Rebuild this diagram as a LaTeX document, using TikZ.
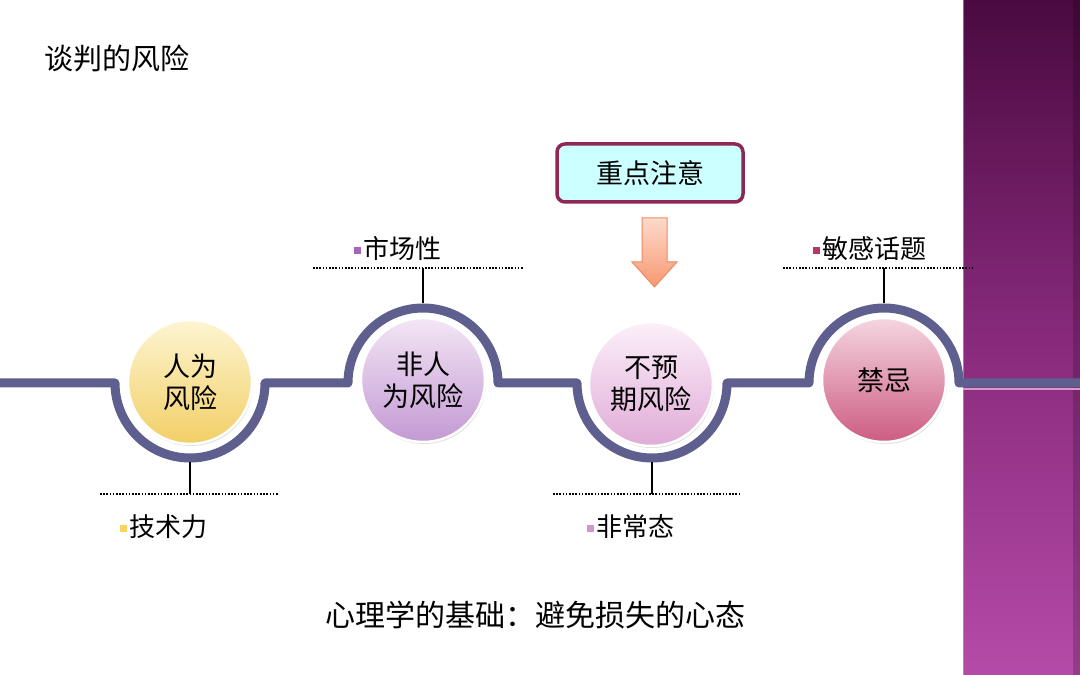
\documentclass[tikz,border=0pt]{standalone}
\usepackage{fontspec}
\setmainfont{Noto Sans CJK SC}
\usetikzlibrary{shadows}
\definecolor{linec}{HTML}{5F5F8F}
\definecolor{bandtop}{HTML}{4A0A40}
\definecolor{bandmid}{HTML}{882A7C}
\definecolor{bandbot}{HTML}{B54BA8}
\definecolor{pinkline}{HTML}{D99ACB}
\definecolor{yelT}{HTML}{FDF5D2}
\definecolor{yelM}{HTML}{FBE9A8}
\definecolor{yelB}{HTML}{F2CF66}
\definecolor{purT}{HTML}{F3E6F5}
\definecolor{purM}{HTML}{DEC4E7}
\definecolor{purB}{HTML}{C399D3}
\definecolor{pnkT}{HTML}{FCF0F9}
\definecolor{pnkM}{HTML}{F1D6ED}
\definecolor{pnkB}{HTML}{E0ABD8}
\definecolor{redT}{HTML}{F5D6E0}
\definecolor{redM}{HTML}{EBB5C7}
\definecolor{redB}{HTML}{CD5C82}
\definecolor{bulY}{HTML}{F9D35A}
\definecolor{bulP}{HTML}{A764B8}
\definecolor{bulK}{HTML}{D396CB}
\definecolor{bulR}{HTML}{B5386A}
\definecolor{boxline}{HTML}{8E2852}
\definecolor{boxfill}{HTML}{CCFFFF}
\definecolor{arrA}{HTML}{FCDACA}
\definecolor{arrB}{HTML}{F79872}
\definecolor{arrL}{HTML}{EE8A62}
\newcommand{\bul}[1]{\raisebox{5pt}{\textcolor{#1}{\rule{7pt}{7pt}}}\hspace{2pt}}
\tikzset{
  ball/.style={circle, minimum size=124pt, inner sep=0pt, align=center,
    draw=white, line width=2.5pt,
    font=\fontsize{27}{32}\selectfont,
    drop shadow={opacity=0.25, shadow xshift=1pt, shadow yshift=-2pt}},
  lab/.style={anchor=west, inner sep=0pt, font=\fontsize{26}{30}\selectfont},
  conn/.style={black, line width=2pt},
  dotline/.style={black, line width=1.6pt, dash pattern=on 1.6pt off 1.6pt},
  track/.style={linec, line width=9pt, line join=round},
}
\begin{document}
\begin{tikzpicture}[x=1pt,y=1pt]
\useasboundingbox (0,0) rectangle (1080,675);
\fill[white] (0,0) rectangle (1080,675);
% right band
\shade[top color=bandtop, bottom color=bandbot, middle color=bandmid] (963,0) rectangle (1080,675);
\fill[black, opacity=0.18] (1073,0) rectangle (1080,675);
\draw[pinkline, opacity=0.6, line width=1pt] (963.5,0) -- (963.5,675);
% title
\node[anchor=west, inner sep=0pt, font=\fontsize{29}{32}\selectfont] (title) at (44,617) {谈判的风险};
% main track
\draw[track] (0,292) -- (115,292) arc[start angle=180,end angle=360,radius=75]
  -- (348,292) arc[start angle=180,end angle=0,radius=75]
  -- (577,292) arc[start angle=180,end angle=360,radius=75]
  -- (809,292) arc[start angle=180,end angle=0,radius=75] -- (1080,292);
\draw[pinkline, line width=2pt] (963,286) -- (1080,286);
% circles
\node[ball, top color=yelT, middle color=yelM, bottom color=yelB] (c1) at (190,293) {人为\\风险};
\node[ball, top color=purT, middle color=purM, bottom color=purB] (c2) at (423,295) {非人\\为风险};
\node[ball, top color=pnkT, middle color=pnkM, bottom color=pnkB] (c3) at (651,291) {不预\\期风险};
\node[ball, top color=redT, middle color=redM, bottom color=redB] (c4) at (884,295) {禁忌};
% connector anchors
\coordinate (a1) at (190,212.5);
\coordinate (d1) at (190,181);
\coordinate (a2) at (423,371.5);
\coordinate (d2) at (423,407);
\coordinate (a3) at (652,212.5);
\coordinate (d3) at (652,181);
\coordinate (a4) at (884,371.5);
\coordinate (d4) at (884,407);
\coordinate (l1a) at (100,181); \coordinate (l1b) at (278,181);
\coordinate (l2a) at (313,407); \coordinate (l2b) at (523,407);
\coordinate (l3a) at (553,181); \coordinate (l3b) at (740,181);
\coordinate (l4a) at (783,407); \coordinate (l4b) at (973,407);
\draw[conn] (a1) -- (d1);
\draw[conn] (a2) -- (d2);
\draw[conn] (a3) -- (d3);
\draw[conn] (a4) -- (d4);
\draw[dotline] (l1a) -- (l1b);
\draw[dotline] (l2a) -- (l2b);
\draw[dotline] (l3a) -- (l3b);
\draw[dotline] (l4a) -- (l4b);
% labels
\node[lab] (t1) at (120,148) {\bul{bulY}技术力};
\node[lab] (t2) at (354,426) {\bul{bulP}市场性};
\node[lab] (t3) at (587,148) {\bul{bulK}非常态};
\node[lab] (t4) at (813,426) {\bul{bulR}敏感话题};
% highlight box
\node[draw=boxline, line width=3.5pt, fill=boxfill, rounded corners=8pt,
  minimum width=186pt, minimum height=58pt, font=\fontsize{27}{30}\selectfont] (box) at (650,502) {重点注意};
% block arrow
\coordinate (ar) at (654.5,388);
\shade[top color=arrA, bottom color=arrB, draw=arrL, line width=1pt]
  (642,457) -- (667,457) -- (667,413) -- (677,413) -- (ar) -- (632,413) -- (642,413) -- cycle;
% bottom caption
\node[inner sep=0pt, font=\fontsize{30}{32}\selectfont] (cap) at (535,60) {心理学的基础：避免损失的心态};
\end{tikzpicture}
\end{document}
